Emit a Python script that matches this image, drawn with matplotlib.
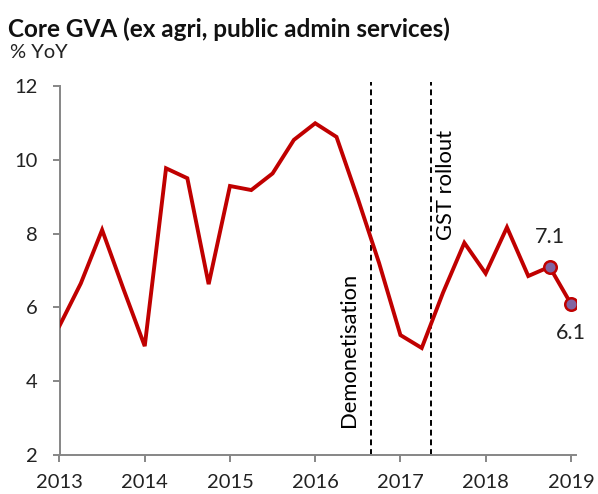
import numpy as np
import matplotlib
matplotlib.use("Agg")
import matplotlib.pyplot as plt

plt.rcParams['font.family'] = ['Lato', 'DejaVu Sans']

# Квартальные данные, % г/г
quarters = np.arange(2013.0, 2019.01, 0.25)
core_gva = [5.5, 6.65, 8.1, 6.5, 4.95,
            9.77, 9.5, 6.63, 9.29, 9.18,
            9.63, 10.54, 10.99, 10.62, 8.95,
            7.2, 5.25, 4.9, 6.4, 7.75,
            6.92, 8.17, 6.85, 7.1, 6.1]
years = [2013, 2014, 2015, 2016, 2017, 2018, 2019]
y_ticks = [2, 4, 6, 8, 10, 12]

# События
events = ["Demonetisation", "GST rollout"]
event_dates = [2016.66, 2017.36]

red = '#C00000'
grey = '#868686'

fig = plt.figure(figsize=(5.98, 4.94), dpi=100)
ax = fig.add_axes([59.5 / 598, 39 / 494, (576 - 59.5) / 598, (455 - 86) / 494])

ax.plot(quarters, core_gva, color=red, lw=2.8, solid_joinstyle='miter', zorder=3)

# Последние две точки с подписями
ax.plot(quarters[-2:], core_gva[-2:], 'o', ms=9, mfc='#8064A2', mec=red, mew=1.8, zorder=4)
ax.annotate(f"{core_gva[-2]:.1f}", (quarters[-2], core_gva[-2]), xytext=(0, 14),
            textcoords='offset points', ha='center', va='bottom', fontsize=15.5, color='#222222')
ax.annotate(f"{core_gva[-1]:.1f}", (quarters[-1], core_gva[-1]), xytext=(0, -14),
            textcoords='offset points', ha='center', va='top', fontsize=15.5, color='#222222')

# Вертикальные пунктиры
ax.vlines(event_dates, 2, 12.1, colors='black', linestyles=(0, (3, 2)), lw=1.4,
          clip_on=False, zorder=2)
ax.text(event_dates[0] - 0.26, 2.76, events[0], rotation=90, ha='center', va='bottom',
        fontsize=15.8, color='black')
ax.text(event_dates[1] + 0.18, 10.8, events[1], rotation=90, ha='center', va='top',
        fontsize=15.8, color='black')

ax.set_xlim(2013, 2019.06)
ax.set_ylim(2, 12)
ax.set_xticks(years)
ax.set_yticks(y_ticks)
ax.tick_params(axis='both', colors=grey, labelcolor='#222222', labelsize=14.5,
               length=5, width=1.4)
ax.tick_params(axis='x', pad=9)
ax.tick_params(axis='y', pad=11)

for side in ['top', 'right']:
    ax.spines[side].set_visible(False)
for side in ['left', 'bottom']:
    ax.spines[side].set_color(grey)
    ax.spines[side].set_linewidth(1.4)

fig.text(8 / 598, 1 - 29 / 494, "Core GVA (ex agri, public admin services)",
         fontsize=17.5, fontweight='bold', color='#111111', va='center')
fig.text(10 / 598, 1 - 52 / 494, "% YoY", fontsize=14.5, color='#222222', va='center')

fig.savefig("out.png", dpi=100)
